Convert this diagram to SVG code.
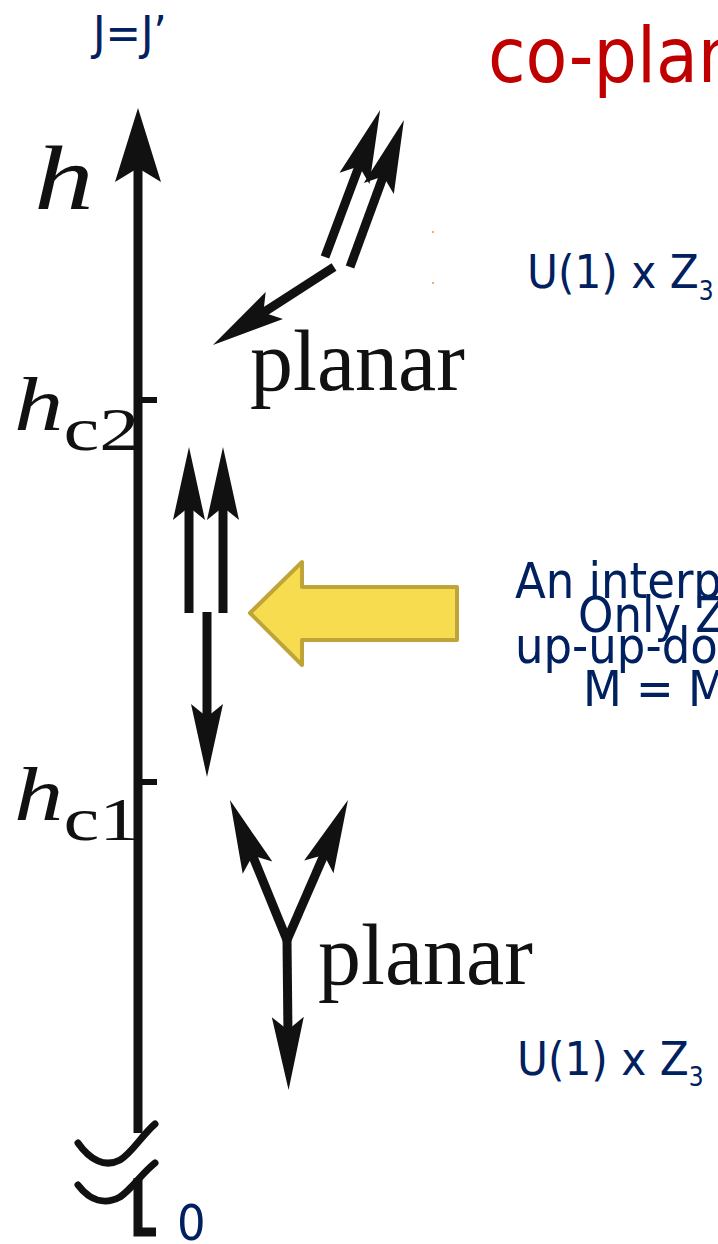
<svg xmlns="http://www.w3.org/2000/svg" width="718" height="1244" viewBox="0 0 718 1244">
<style>
.slide{font-family:"DejaVu Sans Condensed","DejaVu Sans",Verdana,sans-serif;font-stretch:condensed;fill:#002060}
.red{fill:#C00000}
.serif{font-family:"Liberation Serif","Times New Roman",serif;fill:#111}
.it{font-style:italic}
.spin{stroke:#111;stroke-width:9;fill:none;stroke-linecap:butt}
.ax{stroke:#111;stroke-width:9;fill:none}
.tick{stroke:#111;stroke-width:6}
.brk{stroke:#111;stroke-width:7;fill:none;stroke-linecap:round}
</style>
<defs>
<marker id="ah" markerUnits="userSpaceOnUse" viewBox="-14 -17 70 34" markerWidth="70" markerHeight="34" refX="5" refY="0" orient="auto" overflow="visible">
<path d="M60,0 L-13,-16 L0,0 L-13,16 Z" fill="#111"/>
</marker>
<marker id="big" markerUnits="userSpaceOnUse" viewBox="-15 -24 76 48" markerWidth="76" markerHeight="48" refX="6" refY="0" orient="auto" overflow="visible">
<path d="M60,0 L-14,-23 L0,0 L-14,23 Z" fill="#111"/>
</marker>
</defs>
<rect width="718" height="1244" fill="#fff"/>

<g id="title">
<text class="slide" x="93" y="49" font-size="47">J=J’</text>
<text class="slide red" x="488" y="82" font-size="76">co-plan</text>
</g>

<g id="axis">
<line class="ax" x1="138" y1="1133" x2="138" y2="162" marker-end="url(#big)"/>
<line class="tick" x1="138" y1="400" x2="157" y2="400"/>
<line class="tick" x1="138" y1="782" x2="157" y2="782"/>
<path class="brk" d="M78,1143 C90,1160 105,1168 120,1160 C132,1153 142,1135 155,1124"/>
<path class="brk" d="M78,1185 C90,1201 105,1205 120,1197 C132,1189 142,1173 155,1163"/>
<path d="M138,1178 L138,1232 L156,1232" stroke="#111" stroke-width="9" fill="none"/>
<text class="serif it" transform="translate(34,209) scale(1.3,1)" font-size="92">h</text>
<text class="serif" transform="translate(14,430) scale(1.3,1)"><tspan class="it" font-size="76">h</tspan><tspan font-size="62" dy="20">c2</tspan></text>
<text class="serif" transform="translate(14,820) scale(1.3,1)"><tspan class="it" font-size="76">h</tspan><tspan font-size="62" dy="20">c1</tspan></text>
<text class="slide" x="177" y="1240" font-size="50">0</text>
</g>

<g id="state-high">
<line class="spin" x1="325" y1="257" x2="360.8" y2="161.5" marker-end="url(#ah)"/>
<line class="spin" x1="350" y1="267" x2="385" y2="171.6" marker-end="url(#ah)"/>
<line class="spin" x1="334" y1="267" x2="259.2" y2="315.2" marker-end="url(#ah)"/>
<text class="serif" x="250" y="390" font-size="86">planar</text>
<circle cx="433" cy="232" r="1" fill="#E09050"/>
<circle cx="433" cy="283" r="1" fill="#E09050"/>
<text class="slide" x="527" y="288" font-size="47">U(1) x Z<tspan font-size="26" dy="12">3</tspan></text>
</g>

<g id="state-uud">
<line class="spin" x1="189" y1="613" x2="189" y2="502" marker-end="url(#ah)"/>
<line class="spin" x1="223" y1="613" x2="223" y2="502" marker-end="url(#ah)"/>
<line class="spin" x1="207" y1="612" x2="207" y2="722" marker-end="url(#ah)"/>
</g>

<g id="pointer">
<polygon points="250,613 302,562 302,587 457,587 457,640 302,640 302,665" fill="#F8DC50" stroke="#BFA43A" stroke-width="4" stroke-linejoin="round"/>
</g>

<g id="note">
<text class="slide" x="515" y="598" font-size="50">An interp</text>
<text class="slide" x="578" y="632" font-size="50">Only Z</text>
<text class="slide" x="515" y="663" font-size="50">up-up-do</text>
<text class="slide" x="583" y="706" font-size="50">M = M</text>
</g>

<g id="state-low">
<line class="spin" x1="287" y1="940" x2="250.7" y2="851" stroke-linecap="round" marker-end="url(#ah)"/>
<line class="spin" x1="287" y1="940" x2="326" y2="850.4" stroke-linecap="round" marker-end="url(#ah)"/>
<line class="spin" x1="287" y1="940" x2="288" y2="1035" marker-end="url(#ah)"/>
<text class="serif" x="318" y="984" font-size="86">planar</text>
<text class="slide" x="517" y="1075" font-size="47">U(1) x Z<tspan font-size="26" dy="11">3</tspan></text>
</g>
</svg>
